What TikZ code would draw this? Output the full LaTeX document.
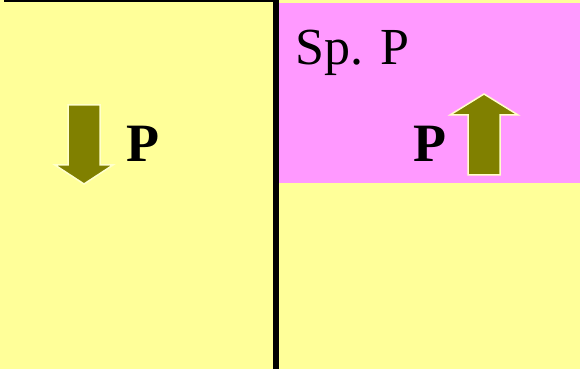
\documentclass[tikz,border=0pt]{standalone}
\usepackage{fontspec}
\setmainfont{Liberation Serif}
\definecolor{bgyellow}{HTML}{FFFF99}
\definecolor{spink}{HTML}{FF99FF}
\definecolor{olivearrow}{HTML}{808000}
\definecolor{edgepale}{HTML}{FFFFCC}
\begin{document}
\begin{tikzpicture}[x=1pt,y=1pt,
  arrowshape/.style={fill=olivearrow,draw=edgepale,line width=1.5pt,line join=miter},
  plabel/.style={font=\fontsize{54}{54}\selectfont\bfseries,inner sep=0pt,anchor=base},
  splabel/.style={font=\fontsize{52}{52}\selectfont,inner sep=0pt,anchor=base west}]
\useasboundingbox (0,0) rectangle (580,369);
\fill[bgyellow] (0,0) rectangle (580,369);
% pink region
\fill[spink] (279,186) rectangle (580,366);
% top black line
\fill[black] (4,366.5) rectangle (275,369);
% vertical divider
\fill[black] (273,0) rectangle (278.5,369);
% left arrow (down)
\draw[arrowshape] (68,264) -- (100,264) -- (100,204) -- (113,204) -- (84,185) -- (55,204) -- (68,204) -- cycle;
\node[plabel] (p1) at (143,207) {P};
% right arrow (up)
\draw[arrowshape] (468,194) -- (500,194) -- (500,254) -- (518,254) -- (484,275) -- (450,254) -- (468,254) -- cycle;
\node[plabel] (p2) at (430,207) {P};
% Sp. P label
\node[splabel] (sp) at (295,304) {Sp. P};
\end{tikzpicture}
\end{document}
